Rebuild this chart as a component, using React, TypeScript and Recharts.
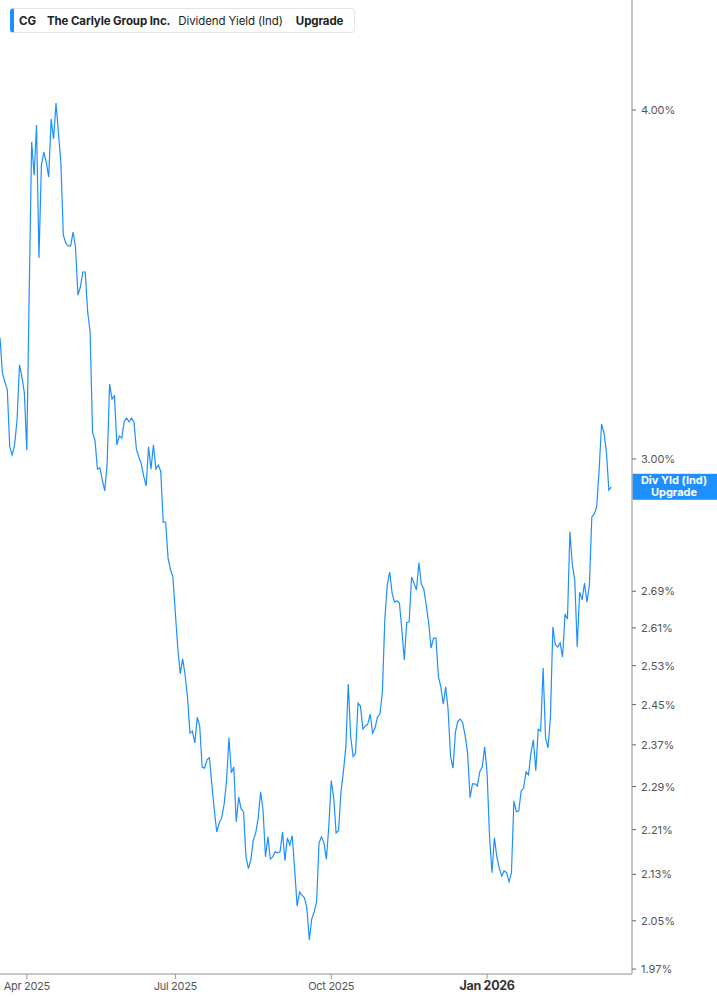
import React from "react";
import { LineChart, Line, XAxis, YAxis, ReferenceLine } from "recharts";

const yieldValues: number[] = [
  3.315, 3.22, 3.197, 3.176, 3.03, 3.01, 3.035, 3.098, 3.242, 3.21,
  3.168, 3.022, 3.448, 3.896, 3.791, 3.951, 3.541, 3.823, 3.864, 3.832,
  3.785, 3.971, 3.906, 4.023, 3.925, 3.829, 3.608, 3.585, 3.576, 3.576,
  3.617, 3.573, 3.434, 3.457, 3.5, 3.5, 3.387, 3.331, 3.065, 3.047,
  2.975, 2.978, 2.949, 2.922, 2.99, 3.191, 3.152, 3.16, 3.035, 3.057,
  3.052, 3.095, 3.103, 3.093, 3.103, 3.093, 3.025, 3.005, 2.988, 2.958,
  2.934, 3.03, 2.975, 3.035, 2.975, 2.985, 2.97, 2.848, 2.848, 2.765,
  2.738, 2.722, 2.642, 2.567, 2.513, 2.544, 2.511, 2.464, 2.393, 2.397,
  2.374, 2.425, 2.407, 2.327, 2.325, 2.341, 2.345, 2.293, 2.246, 2.206,
  2.222, 2.231, 2.256, 2.299, 2.384, 2.316, 2.327, 2.224, 2.27, 2.248,
  2.243, 2.161, 2.14, 2.156, 2.191, 2.204, 2.231, 2.28, 2.246, 2.161,
  2.197, 2.157, 2.161, 2.17, 2.168, 2.17, 2.206, 2.154, 2.195, 2.182,
  2.199, 2.138, 2.075, 2.099, 2.094, 2.089, 2.072, 2.018, 2.053, 2.065,
  2.082, 2.186, 2.197, 2.186, 2.157, 2.215, 2.301, 2.27, 2.204, 2.208,
  2.28, 2.318, 2.366, 2.492, 2.386, 2.347, 2.354, 2.453, 2.447, 2.401,
  2.407, 2.411, 2.431, 2.393, 2.403, 2.425, 2.431, 2.474, 2.627, 2.704,
  2.733, 2.686, 2.666, 2.669, 2.664, 2.606, 2.542, 2.621, 2.623, 2.722,
  2.708, 2.693, 2.754, 2.706, 2.695, 2.66, 2.621, 2.567, 2.588, 2.588,
  2.507, 2.486, 2.451, 2.486, 2.439, 2.347, 2.325, 2.395, 2.417, 2.421,
  2.413, 2.387, 2.354, 2.269, 2.295, 2.295, 2.291, 2.318, 2.327, 2.366,
  2.316, 2.197, 2.133, 2.195, 2.161, 2.141, 2.127, 2.136, 2.133, 2.117,
  2.133, 2.263, 2.243, 2.244, 2.282, 2.287, 2.318, 2.312, 2.354, 2.38,
  2.32, 2.401, 2.397, 2.525, 2.384, 2.364, 2.423, 2.612, 2.574, 2.569,
  2.578, 2.548, 2.64, 2.629, 2.825, 2.749, 2.715, 2.569, 2.688, 2.671,
  2.708, 2.666, 2.704, 2.86, 2.867, 2.884, 2.973, 3.088, 3.065, 3.017,
  2.924, 2.932,
];

const xTickIndex: number[] = [11, 72, 136, 200];
const xTickLabels: string[] = ["Apr 2025", "Jul 2025", "Oct 2025", "Jan 2026"];
const yTicks: number[] = [1.97, 2.05, 2.13, 2.21, 2.29, 2.37, 2.45, 2.53, 2.61, 2.69, 3.0, 4.0];

const BLUE = "#1e8fff";
const FONT = "Inter, 'Noto Sans', sans-serif";

const data = yieldValues.map((v, i) => ({ i, v }));
const lastValue = yieldValues[yieldValues.length - 1];

const XTick = (props: any) => {
  const { x, y, payload } = props;
  const idx = xTickIndex.indexOf(payload.value);
  const label = idx >= 0 ? xTickLabels[idx] : "";
  const bold = label === "Jan 2026";
  return (
    <text
      x={x}
      y={y}
      dy={9}
      textAnchor="middle"
      fontFamily={FONT}
      fontSize={bold ? 12.5 : 11}
      fontWeight={bold ? 700 : 400}
      fill={bold ? "#333" : "#555"}
      letterSpacing={-0.3}
    >
      {label}
    </text>
  );
};

const YTick = (props: any) => {
  const { x, y, payload } = props;
  return (
    <text x={x} y={y} dy={4} textAnchor="start" fontFamily={FONT} fontSize={11} fill="#555">
      {payload.value.toFixed(2) + "%"}
    </text>
  );
};

const LastLabel = (props: any) => {
  const vb = props.viewBox || {};
  const x0 = (vb.x || 0) + (vb.width || 0);
  const yc = vb.y || 0;
  return (
    <g>
      <rect x={x0} y={yc - 13} width={85} height={26} fill={BLUE} />
      <text x={x0 + 42} y={yc - 3} textAnchor="middle" fontFamily={FONT} fontSize={11} fontWeight={700} fill="#fff">
        Div Yld (Ind)
      </text>
      <text x={x0 + 42} y={yc + 9} textAnchor="middle" fontFamily={FONT} fontSize={11} fontWeight={700} fill="#fff">
        Upgrade
      </text>
    </g>
  );
};

export default function App() {
  return (
    <div style={{ position: "absolute", left: 0, top: 0, width: 717, height: 1005, background: "#fff" }}>
      <LineChart width={717} height={1005} data={data} margin={{ top: 0, right: 0, bottom: 0, left: 0 }}>
        <XAxis
          dataKey="i"
          type="number"
          domain={[0, 259.5]}
          allowDataOverflow
          ticks={xTickIndex}
          tick={<XTick />}
          tickLine={{ stroke: "#999" }}
          tickSize={5}
          axisLine={{ stroke: "#b5b5b5", strokeWidth: 1.5 }}
          height={31}
          interval={0}
        />
        <YAxis
          orientation="right"
          type="number"
          scale="log"
          domain={[1.962, 4.38]}
          allowDataOverflow
          ticks={yTicks}
          tick={<YTick />}
          tickSize={4}
          tickMargin={5}
          tickLine={{ stroke: "#666" }}
          axisLine={{ stroke: "#b5b5b5", strokeWidth: 1.5 }}
          width={85}
          interval={0}
        />
        <Line
          dataKey="v"
          type="linear"
          stroke={BLUE}
          strokeWidth={1.2}
          dot={false}
          activeDot={false}
          isAnimationActive={false}
        />
        <ReferenceLine y={lastValue} stroke="none" label={<LastLabel />} />
      </LineChart>
      <div
        style={{
          position: "absolute",
          left: 10,
          top: 8,
          width: 345,
          height: 25,
          boxSizing: "border-box",
          border: "1px solid #e4e4e4",
          borderLeft: `4px solid ${BLUE}`,
          borderRadius: 4,
          background: "#fff",
          display: "flex",
          alignItems: "center",
          fontFamily: FONT,
          fontSize: 11.5,
          color: "#222",
          whiteSpace: "nowrap",
          letterSpacing: -0.1,
        }}
      >
        <span style={{ marginLeft: 5, fontWeight: 700 }}>CG</span>
        <span style={{ marginLeft: 11, fontWeight: 700 }}>The Carlyle Group Inc.</span>
        <span style={{ marginLeft: 8, fontWeight: 400 }}>Dividend Yield (Ind)</span>
        <span style={{ marginLeft: 13, fontWeight: 700 }}>Upgrade</span>
      </div>
    </div>
  );
}
